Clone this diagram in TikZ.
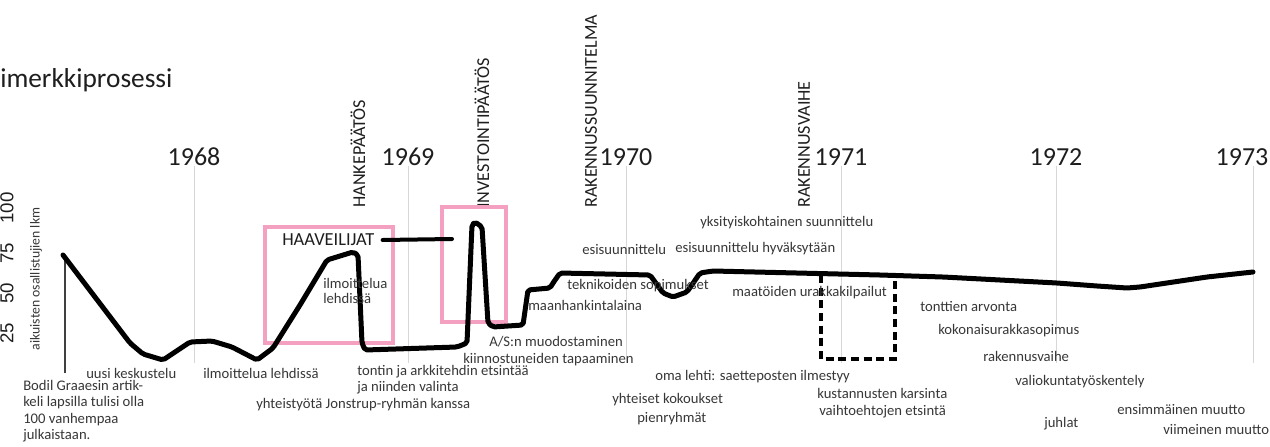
\documentclass[tikz,border=0pt]{standalone}
\usepackage{fontspec}
\setmainfont{Carlito}
\newfontfamily\arialf{Liberation Sans}
\definecolor{pinkc}{RGB}{244,160,192}
\definecolor{gridgray}{RGB}{215,215,215}
\definecolor{labelgray}{RGB}{55,55,55}
\definecolor{textdark}{RGB}{30,30,30}
\begin{document}
\begin{tikzpicture}[x=0.75pt,y=-0.75pt,
  lbl/.style={font=\fontsize{11}{13}\selectfont, text=labelgray, inner sep=0pt, anchor=west},
  mlbl/.style={font=\fontsize{11}{#1}\selectfont, text=labelgray, inner sep=0pt, anchor=north west, align=left},
  yearlbl/.style={font=\fontsize{19.5}{22}\selectfont, text=textdark, inner sep=0pt, anchor=base},
  phaselbl/.style={font=\fontsize{13.6}{16}\selectfont, text=textdark, rotate=90, anchor=west, inner sep=0pt},
  axisnum/.style={font=\arialf\fontsize{14}{16}\selectfont, text=textdark, rotate=90, inner sep=0pt},
  gridline/.style={draw=gridgray, line width=0.75pt},
  curveline/.style={draw=black, line width=3.75pt, line join=round, line cap=round, rounded corners=1.5pt},
  pinkbox/.style={draw=pinkc, line width=3pt},
  dashbox/.style={draw=black, line width=3pt, dash pattern=on 6pt off 3.5pt}
]
\useasboundingbox (0,0) rectangle (1270,446);

% title
\node[font=\fontsize{20.5}{24}\selectfont, text=textdark, inner sep=0pt, anchor=base west] (title) at (0,87) {imerkkiprosessi};

% grid lines
\foreach \gx in {194,408,626,841,1056,1253} { \draw[gridline] (\gx,166) -- (\gx,363); }

% years
\node[yearlbl] (y1968) at (194,165) {1968};
\node[yearlbl] (y1969) at (408,165) {1969};
\node[yearlbl] (y1970) at (626,165) {1970};
\node[yearlbl] (y1971) at (841,165) {1971};
\node[yearlbl] (y1972) at (1056,165) {1972};
\node[yearlbl] (y1973) at (1242,165) {1973};

% phase labels
\node[phaselbl] (hanke) at (358,208) {HANKEPÄÄTÖS};
\node[phaselbl] (invest) at (482,208) {INVESTOINTIPÄÄTÖS};
\node[phaselbl] (raksuun) at (591,208) {RAKENNUSSUUNNITELMA};
\node[phaselbl] (raksvaihe) at (804,208) {RAKENNUSVAIHE};

% axis
\node[axisnum] (a25) at (7,333) {25};
\node[axisnum] (a50) at (7,293) {50};
\node[axisnum] (a75) at (7,253) {75};
\node[axisnum] (a100) at (7,208) {100};
\node[font=\fontsize{10.3}{12}\selectfont, text=labelgray, rotate=90, inner sep=0pt] (axlbl) at (36,279) {aikuisten osallistujien lkm};
\draw[draw=black!75, line width=1.3pt] (65,255) -- (65,373);

% pink boxes
\draw[pinkbox] (265,227) rectangle (393,343);
\draw[pinkbox] (442,207) rectangle (506,322);

% dashed box
\draw[dashbox] (821,275) -- (821,359) -- (895,359) -- (895,277);

% main curve
\draw[curveline] (63,255) -- (130,343) -- (143,354) -- (163,360) -- (190,342) -- (212,341) -- (232,347) -- (257,360) -- (273,348) -- (300,305) -- (327,260) -- (353,252) -- (358,255) -- (362,343) -- (365,350) -- (457,347) -- (467,343) -- (472,225) -- (475,222) -- (482,227) -- (488,323) -- (493,327) -- (523,325) -- (528,290) -- (550,288) -- (553,283) -- (560,273) -- (650,275) -- (663,293) -- (673,297) -- (687,292) -- (700,273) -- (713,271) -- (880,275) -- (943,277) -- (1057,283) -- (1097,286) -- (1127,288) -- (1140,287) -- (1207,277) -- (1253,272);

% HAAVEILIJAT
\node[font=\fontsize{13.8}{16}\selectfont, text=textdark, inner sep=0pt, anchor=west] (haav) at (282,240) {HAAVEILIJAT};
\coordinate (haavend) at (452,239);
\draw[line width=3pt, line cap=round] ([xshift=6]haav.east) -- (haavend);

% labels
\node[mlbl=12.3] (bodil) at (23,380) {Bodil Graaesin artik-\\keli lapsilla tulisi olla\\100 vanhempaa\\julkaistaan.};
\node[lbl] (uusi) at (86,373) {uusi keskustelu};
\node[lbl] (ilmo1) at (203,373) {ilmoittelua lehdissä};
\node[lbl] (yhteis) at (256,405) {yhteistyötä Jonstrup-ryhmän kanssa};
\node[mlbl=11.25] (ilmo2) at (323,278) {ilmoittelua\\lehdissä};
\node[mlbl=12] (tontin) at (357,365) {tontin ja arkkitehdin etsintää\\ja niinden valinta};
\node[lbl] (as) at (489,342) {A/S:n muodostaminen};
\node[lbl] (kiinn) at (463,360) {kiinnostuneiden tapaaminen};
\node[lbl] (maan) at (528,305) {maanhankintalaina};
\node[lbl] (tekn) at (567,286) {teknikoiden sopimukset};
\node[lbl] (esi1) at (582,249) {esisuunnittelu};
\node[lbl] (esi2) at (675,249) {esisuunnittelu hyväksytään};
\node[lbl] (yksit) at (700,223) {yksityiskohtainen suunnittelu};
\node[lbl] (maat) at (732,293) {maatöiden urakkakilpailut};
\node[lbl] (oma) at (655,377) {oma lehti: saetteposten ilmestyy};
\node[lbl] (yhteiset) at (612,400) {yhteiset kokoukset};
\node[lbl] (pienr) at (637,419) {pienryhmät};
\node[lbl] (kust) at (817,393) {kustannusten karsinta};
\node[lbl] (vaiht) at (819,412) {vaihtoehtojen etsintä};
\node[lbl] (tonttien) at (920,306) {tonttien arvonta};
\node[lbl] (kokon) at (938,331) {kokonaisurakkasopimus};
\node[lbl] (rakv) at (983,356) {rakennusvaihe};
\node[lbl] (valiok) at (1015,382) {valiokuntatyöskentely};
\node[lbl] (juhlat) at (1044,424) {juhlat};
\node[lbl] (ensim) at (1117,410) {ensimmäinen muutto};
\node[lbl] (viim) at (1163,430) {viimeinen muutto};
\end{tikzpicture}
\end{document}
